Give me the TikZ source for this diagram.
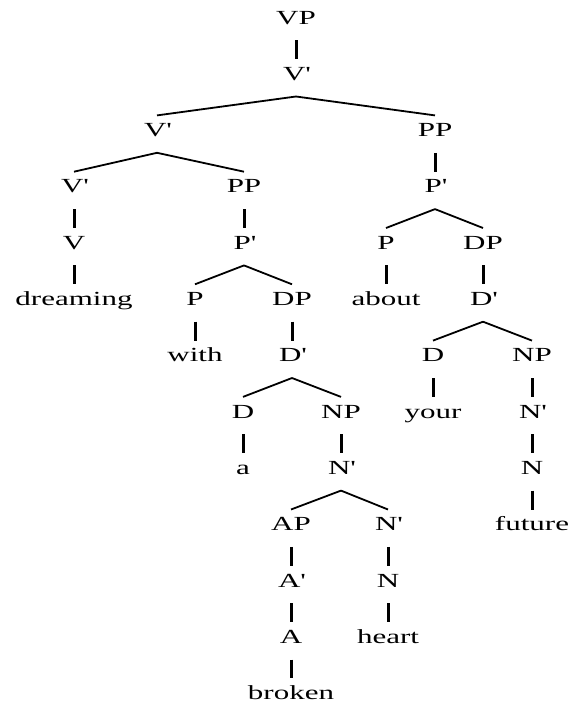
\documentclass[tikz,border=0pt]{standalone}
\usepackage{fontspec}
\setmainfont{Liberation Serif}[FakeStretch=1.55]
\newcommand{\barmark}{\textquotesingle}

\begin{document}
\begin{tikzpicture}[
    x=1pt, y=-1pt,
    font=\fontsize{20}{24}\selectfont,
    cat/.style={inner sep=0pt, text height=21pt, text depth=16pt, anchor=base},
    branch/.style={line width=1.8pt, black},
    unary/.style={line width=3pt, black}
]
    \useasboundingbox (0,0) rectangle (569,704);

    % Rows (baselines, 56.3pt apart)
    \node[cat] (vp)  at (296, 24.0) {VP};
    \node[cat] (vb1) at (296, 80.3) {V\barmark};

    \node[cat] (vb2) at (157, 136.6) {V\barmark};
    \node[cat] (ppa) at (435, 136.6) {PP};

    \node[cat] (vb3) at (74, 192.9) {V\barmark};
    \node[cat] (ppb) at (244, 192.9) {PP};
    \node[cat] (pba) at (435, 192.9) {P\barmark};

    \node[cat] (v)   at (74, 249.2) {V};
    \node[cat] (pbb) at (244, 249.2) {P\barmark};
    \node[cat] (pa)  at (386, 249.2) {P};
    \node[cat] (dpa) at (483, 249.2) {DP};

    \node[cat] (dreaming) at (74, 305.5) {dreaming};
    \node[cat] (pb)    at (195, 305.5) {P};
    \node[cat] (dpb)   at (292, 305.5) {DP};
    \node[cat] (about) at (386, 305.5) {about};
    \node[cat] (dba)   at (483, 305.5) {D\barmark};

    \node[cat] (with) at (195, 361.8) {with};
    \node[cat] (dbb)  at (292, 361.8) {D\barmark};
    \node[cat] (da)   at (433, 361.8) {D};
    \node[cat] (npa)  at (532, 361.8) {NP};

    \node[cat] (db)   at (243, 418.1) {D};
    \node[cat] (npb)  at (341, 418.1) {NP};
    \node[cat] (your) at (433, 418.1) {your};
    \node[cat] (nba)  at (532, 418.1) {N\barmark};

    \node[cat] (a)   at (243, 474.4) {a};
    \node[cat] (nbb) at (341, 474.4) {N\barmark};
    \node[cat] (na)  at (532, 474.4) {N};

    \node[cat] (ap)     at (291, 530.7) {AP};
    \node[cat] (nbc)    at (388, 530.7) {N\barmark};
    \node[cat] (future) at (532, 530.7) {future};

    \node[cat] (abar) at (291, 587.0) {A\barmark};
    \node[cat] (nb)   at (388, 587.0) {N};

    \node[cat] (adj)   at (291, 643.3) {A};
    \node[cat] (heart) at (388, 643.3) {heart};

    \node[cat] (broken) at (291, 699.6) {broken};

    % Binary branches
    \foreach \p/\c in {vb1/vb2, vb1/ppa, vb2/vb3, vb2/ppb, pba/pa, pba/dpa,
                       pbb/pb, pbb/dpb, dba/da, dba/npa, dbb/db, dbb/npb,
                       nbb/ap, nbb/nbc}
        \draw[branch] (\p.south) -- (\c.north);

    % Unary branches
    \foreach \p/\c in {vp/vb1, vb3/v, v/dreaming, ppb/pbb, ppa/pba, pa/about,
                       dpa/dba, pb/with, dpb/dbb, da/your, npa/nba, nba/na,
                       na/future, db/a, npb/nbb, ap/abar, abar/adj, adj/broken,
                       nbc/nb, nb/heart}
        \draw[unary] (\p.south) -- (\c.north);

\end{tikzpicture}
\end{document}
